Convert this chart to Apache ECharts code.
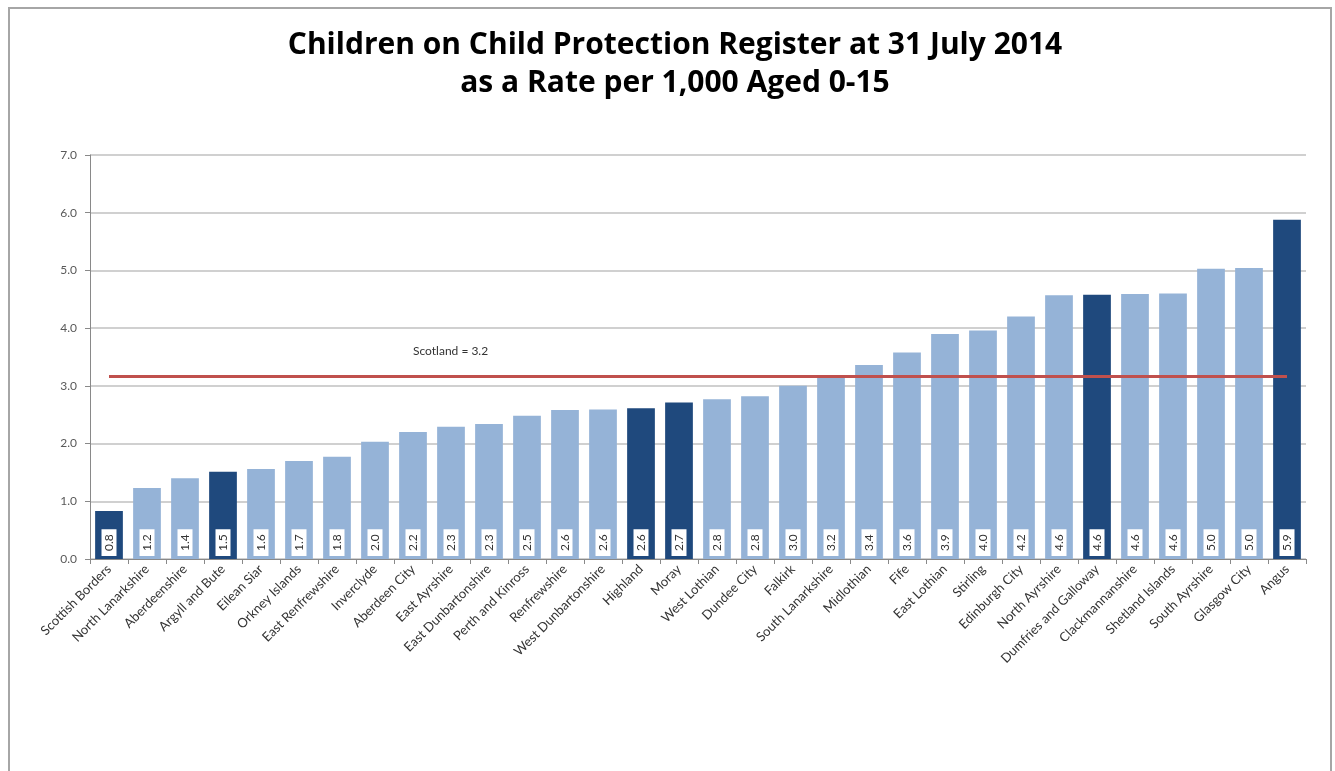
<!DOCTYPE html>
<html>
<head>
<meta charset="utf-8">
<script src="https://cdn.jsdelivr.net/npm/echarts@6/dist/echarts.min.js"></script>
<style>
html,body{margin:0;padding:0;background:#fff;}
#chart{width:1335px;height:771px;}
</style>
</head>
<body>
<div id="chart"></div>
<script>
const titleLines = ['Children on Child Protection Register at 31 July 2014', 'as a Rate per 1,000 Aged 0-15'];
const categories = ['Scottish Borders','North Lanarkshire','Aberdeenshire','Argyll and Bute','Eilean Siar','Orkney Islands','East Renfrewshire','Inverclyde','Aberdeen City','East Ayrshire','East Dunbartonshire','Perth and Kinross','Renfrewshire','West Dunbartonshire','Highland','Moray','West Lothian','Dundee City','Falkirk','South Lanarkshire','Midlothian','Fife','East Lothian','Stirling','Edinburgh City','North Ayrshire','Dumfries and Galloway','Clackmannanshire','Shetland Islands','South Ayrshire','Glasgow City','Angus'];
const rates = [0.83,1.23,1.40,1.51,1.56,1.70,1.77,2.03,2.20,2.29,2.34,2.48,2.58,2.59,2.61,2.71,2.77,2.82,3.00,3.18,3.36,3.58,3.90,3.96,4.20,4.57,4.58,4.59,4.60,5.03,5.04,5.88];
const highlighted = ['Scottish Borders','Argyll and Bute','Highland','Moray','Dumfries and Galloway','Angus'];
const scotlandRate = 3.16;
const yTicks = [0,1,2,3,4,5,6,7];

const FONT = 'Lato, "Open Sans", sans-serif';
const TITLE_FONT = '"Open Sans", Lato, sans-serif';
const chart = echarts.init(document.getElementById('chart'), null, {renderer:'canvas'});
chart.setOption({
  backgroundColor:'#ffffff',
  animation:false,
  textStyle:{fontFamily:FONT},
  graphic:[{
    type:'rect', silent:true, z:-10,
    shape:{x:9, y:8, width:1322, height:800},
    style:{fill:'none', stroke:'#a6a6a6', lineWidth:2}
  }],
  title:{
    text: titleLines.join('\n'),
    left: 670, top: 21, textAlign:'center',
    textStyle:{fontFamily:TITLE_FONT, fontWeight:'bold', fontSize:30, lineHeight:38, color:'#000'}
  },
  grid:{left:90, right:29, top:155, bottom:212, containLabel:false},
  xAxis:{
    type:'category', data:categories,
    axisLine:{lineStyle:{color:'#898989', width:1}},
    axisTick:{show:true, length:5, lineStyle:{color:'#898989'}},
    axisLabel:{rotate:45, interval:0, margin:8, fontSize:13, color:'#333', fontFamily:FONT}
  },
  yAxis:{
    type:'value', min:yTicks[0], max:yTicks[yTicks.length-1], interval:1,
    axisLine:{show:true, lineStyle:{color:'#898989'}},
    axisTick:{show:true, length:5, lineStyle:{color:'#898989'}},
    axisLabel:{formatter:v=>v.toFixed(1), fontSize:12, color:'#595959', margin:13, fontFamily:FONT},
    splitLine:{lineStyle:{color:'#c0c0c0', width:1.5}}
  },
  series:[{
    type:'bar',
    barWidth:'73%',
    data: rates.map((v,i)=>({value:v, itemStyle:{color: highlighted.includes(categories[i]) ? '#1F497D' : '#95B3D7'}})),
    label:{
      show:true, position:'insideBottom', rotate:90, distance:3,
      align:'left', verticalAlign:'middle',
      formatter:p=>p.value.toFixed(1),
      backgroundColor:'#ffffff', padding:[2,5,1,5],
      fontSize:12, color:'#333', fontFamily:FONT
    },
    markLine:{
      silent:true, symbol:'none',
      lineStyle:{color:'#C0504D', width:3, type:'solid'},
      label:{
        show:true, position:'insideStartTop', distance:[304,19],
        formatter:'Scotland = ' + scotlandRate.toFixed(1),
        fontSize:12, color:'#333', fontFamily:FONT
      },
      data:[[{coord:[categories[0], scotlandRate]},{coord:[categories[categories.length-1], scotlandRate]}]]
    }
  }]
});
</script>
</body>
</html>
